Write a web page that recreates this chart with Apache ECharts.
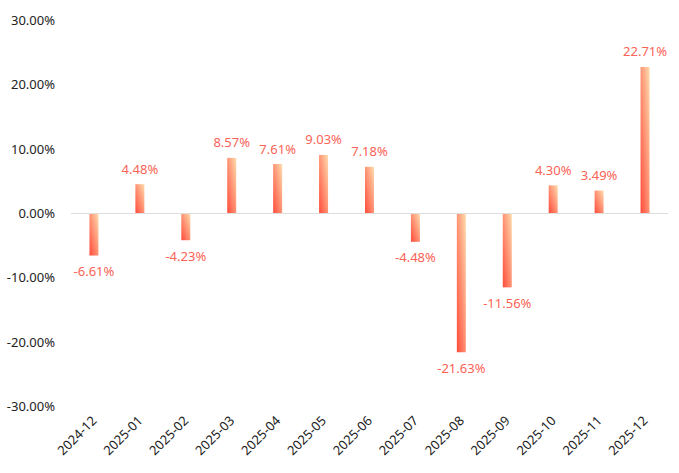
<!DOCTYPE html>
<html>
<head>
<meta charset="utf-8">
<script src="https://cdn.jsdelivr.net/npm/echarts@6/dist/echarts.min.js"></script>
<style>html,body{margin:0;padding:0;background:#fff;}#c{width:679px;height:473px;}</style>
</head>
<body>
<div id="c"></div>
<script>
const categories = ['2024-12','2025-01','2025-02','2025-03','2025-04','2025-05','2025-06','2025-07','2025-08','2025-09','2025-10','2025-11','2025-12'];
const values = [-6.61, 4.48, -4.23, 8.57, 7.61, 9.03, 7.18, -4.48, -21.63, -11.56, 4.30, 3.49, 22.71];

const chart = echarts.init(document.getElementById('c'), null, {renderer: 'svg'});
const font = 'Noto Sans';
chart.setOption({
  animation: false,
  grid: {left: 71, right: 11, top: 20, bottom: 67},
  xAxis: {
    type: 'category',
    data: categories,
    axisLine: {show: false},
    axisTick: {show: false},
    axisLabel: {rotate: 45, color: '#222', fontSize: 13, fontFamily: font, margin: 12, interval: 0}
  },
  yAxis: {
    type: 'value',
    min: -30, max: 30, interval: 10,
    axisLine: {show: false},
    axisTick: {show: false},
    splitLine: {show: false},
    axisLabel: {color: '#222', fontSize: 13, fontFamily: font, margin: 16,
      formatter: v => v.toFixed(2) + '%'}
  },
  series: [{
    type: 'bar',
    data: values,
    barWidth: 9,
    itemStyle: {
      color: new echarts.graphic.LinearGradient(0, 1, 1, 0, [
        {offset: 0, color: '#ff4a3a'},
        {offset: 1, color: '#ffdcae'}
      ])
    },
    label: {
      show: true,
      distance: 9,
      color: '#fa6356',
      fontSize: 13,
      fontFamily: font,
      position: 'top',
      formatter: p => p.value.toFixed(2) + '%'
    },
    labelLayout: null,
    markLine: {
      silent: true,
      symbol: 'none',
      label: {show: false},
      lineStyle: {color: '#dddddd', type: 'solid', width: 1},
      data: [{yAxis: 0}]
    }
  }]
});
// negative values: labels below
chart.setOption({
  series: [{
    data: values.map(v => ({value: v, label: {position: v < 0 ? 'bottom' : 'top'}}))
  }]
});
</script>
</body>
</html>
